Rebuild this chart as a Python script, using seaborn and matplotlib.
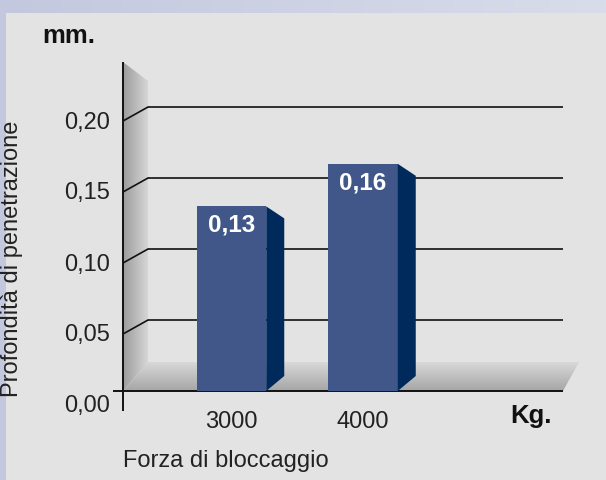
import numpy as np
import pandas as pd
import matplotlib
matplotlib.use("Agg")
import matplotlib.pyplot as plt
import matplotlib.transforms as mtransforms
from matplotlib.patches import Polygon, Rectangle
from matplotlib.colors import LinearSegmentedColormap
import seaborn as sns

# ---------------- data ----------------
categories = ["3000", "4000"]
values = [0.13, 0.16]
value_labels = ["0,13", "0,16"]
yticks = [0.00, 0.05, 0.10, 0.15, 0.20]
ytick_labels = ["0,00", "0,05", "0,10", "0,15", "0,20"]
x_title = "Forza di bloccaggio"
y_title = "Profondità di penetrazione"
y_unit = "mm."
x_unit = "Kg."

# ---------------- style ----------------
sns.set_theme(style="white")
plt.rcParams["font.family"] = ["Liberation Sans", "DejaVu Sans"]

W, H, DPI = 606, 481, 100
fig = plt.figure(figsize=(W / DPI, H / DPI), dpi=DPI)

# background: lavender gradient + light grey panel
bg = fig.add_axes([0, 0, 1, 1], zorder=-10)
bg.set_xlim(0, W)
bg.set_ylim(H, 0)
bg.axis("off")
cmap_bg = LinearSegmentedColormap.from_list("bg", ["#c3c8de", "#d9dcea"])
bg.imshow(np.linspace(0, 1, 256)[None, :], extent=[0, W, H, 0], cmap=cmap_bg, aspect="auto")
bg.add_patch(Rectangle((6, 14), W - 6, H - 14, color="#e3e3e3", lw=0))

# main axes geometry (pixels)
AX_L, AX_R, AX_T, AX_B = 123, 606, 63, 392
PX_PER_UNIT = 1420.0      # vertical pixels per mm
CAT_STEP = 131.5          # horizontal pixels between categories
CAT0_PX = 231.5           # pixel centre of first category

ax = fig.add_axes([AX_L / W, (H - AX_B) / H, (AX_R - AX_L) / W, (AX_B - AX_T) / H])
ax.patch.set_alpha(0)

df = pd.DataFrame({"force": categories, "depth": values})
sns.barplot(data=df, x="force", y="depth", order=categories, color="#41578a",
            saturation=1, width=69.5 / CAT_STEP, linewidth=0, ax=ax, zorder=5)

ax.set_xlim((AX_L - CAT0_PX) / CAT_STEP, (AX_R - CAT0_PX) / CAT_STEP)
ax.set_ylim(0, (AX_B - AX_T) / PX_PER_UNIT)
for s in ax.spines.values():
    s.set_visible(False)
ax.grid(False)


def dx(px):
    return px / CAT_STEP


def dy(px):
    return px / PX_PER_UNIT


def X(px):
    return (px - CAT0_PX) / CAT_STEP


x_front = X(AX_L)
x_back = X(AX_L + 25)
x_grid_end = X(563)
x_floor_end = X(579)
y_floor_back = dy(392 - 363)
y_wall_top_back = dy(392 - 82)
y_top = dy(AX_B - AX_T)

# left wall with horizontal gradient
wall = Polygon([(x_front, y_top), (x_back, y_wall_top_back), (x_back, y_floor_back), (x_front, 0)],
               closed=True, facecolor="none", edgecolor="none")
ax.add_patch(wall)
cmap_wall = LinearSegmentedColormap.from_list("wall", ["#9c9c9c", "#d6d6d6"])
im = ax.imshow(np.linspace(0, 1, 64)[None, :], extent=[x_front, x_back, 0, y_top],
               cmap=cmap_wall, aspect="auto", zorder=1)
im.set_clip_path(wall)

# floor with vertical gradient
floor = Polygon([(x_front, 0), (x_grid_end, 0), (x_floor_end, y_floor_back), (x_back, y_floor_back)],
                closed=True, facecolor="none", edgecolor="none")
ax.add_patch(floor)
cmap_floor = LinearSegmentedColormap.from_list("floor", ["#a6a6a6", "#d8d8d8"])
im2 = ax.imshow(np.linspace(0, 1, 64)[:, None], extent=[x_front, x_floor_end, 0, y_floor_back],
                cmap=cmap_floor, aspect="auto", origin="lower", zorder=1)
im2.set_clip_path(floor)

ax.set_xlim((AX_L - CAT0_PX) / CAT_STEP, (AX_R - CAT0_PX) / CAT_STEP)
ax.set_ylim(0, (AX_B - AX_T) / PX_PER_UNIT)

# back-wall gridlines and diagonal ticks
for v in yticks[1:]:
    ax.plot([x_back, x_grid_end], [v, v], color="#111111", lw=1.2, zorder=2, solid_capstyle="butt")
    ax.plot([x_front, x_back], [v - dy(14), v], color="#111111", lw=1.2, zorder=2)

# front base line, zero tick, vertical axis
ax.plot([X(AX_L - 10), x_grid_end], [0, 0], color="#111111", lw=1.4, zorder=3,
        clip_on=False, solid_capstyle="butt")
ax.plot([x_front, x_front], [-dy(20), y_top], color="#111111", lw=1.4, zorder=3,
        clip_on=False, solid_capstyle="butt")

# 3D side faces of the bars + value labels
for p, lab in zip(ax.patches, value_labels):
    if not isinstance(p, Rectangle) or p.get_height() <= 0:
        continue
    x1 = p.get_x() + p.get_width()
    top = p.get_height()
    side = Polygon([(x1, top), (x1 + dx(18), top - dy(12)), (x1 + dx(18), dy(15)), (x1, 0)],
                   closed=True, facecolor="#002a5c", edgecolor="none", zorder=5)
    ax.add_patch(side)
    ax.text(p.get_x() + p.get_width() / 2, top - dy(18), lab, color="white",
            fontsize=17.5, fontweight="bold", ha="center", va="center", zorder=6)

# ticks
ax.set_yticks(yticks, ytick_labels)
ax.tick_params(axis="y", length=0, pad=9.4, labelsize=17, labelcolor="#222222")
ax.tick_params(axis="x", length=0, pad=13.5, labelsize=17, labelcolor="#222222")
shift = mtransforms.ScaledTranslation(0, -0.12, fig.dpi_scale_trans)
for t in ax.get_yticklabels():
    t.set_transform(t.get_transform() + shift)

# axis titles
ax.set_xlabel(x_title, fontsize=17, color="#222222", loc="left")
ax.xaxis.set_label_coords(0, (AX_B - 450) / (AX_B - AX_T))
ax.set_ylabel(y_title, fontsize=17, color="#222222")
ax.yaxis.set_label_coords(-0.208, 0.405)

# units
fig.text(42 / W, 1 - 43 / H, y_unit, fontsize=18.5, fontweight="bold", color="#111111",
         ha="left", va="baseline")
fig.text(510 / W, 1 - 423 / H, x_unit, fontsize=18.5, fontweight="bold", color="#111111",
         ha="left", va="baseline")

fig.savefig("out.png", dpi=DPI)
